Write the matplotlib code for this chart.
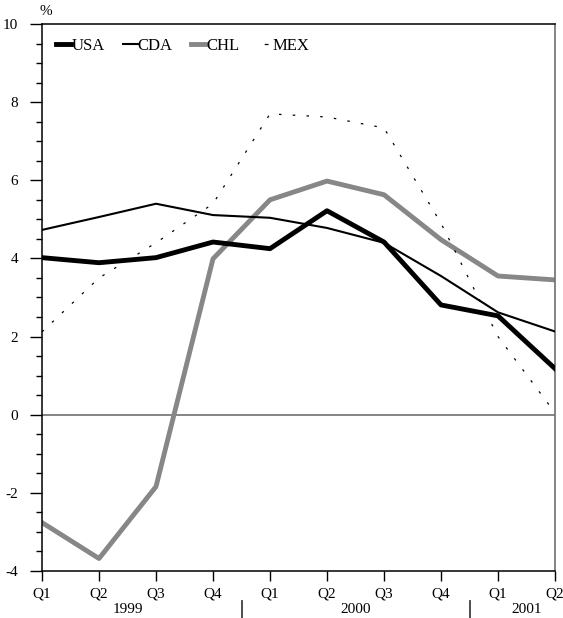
import numpy as np
import matplotlib
matplotlib.use('Agg')
import matplotlib.pyplot as plt
from matplotlib.lines import Line2D
from matplotlib.ticker import MultipleLocator

plt.rcParams['font.family'] = ['Liberation Serif', 'DejaVu Serif']
plt.rcParams['axes.unicode_minus'] = False

quarters = ['Q1', 'Q2', 'Q3', 'Q4', 'Q1', 'Q2', 'Q3', 'Q4', 'Q1', 'Q2']
years = ['1999', '2000', '2001']
usa = [4.02, 3.89, 4.02, 4.42, 4.25, 5.22, 4.42, 2.81, 2.53, 1.18]
cda = [4.73, 5.06, 5.40, 5.11, 5.04, 4.78, 4.40, 3.55, 2.62, 2.13]
chl = [-2.76, -3.68, -1.84, 3.99, 5.50, 5.98, 5.63, 4.48, 3.55, 3.45]
mex = [2.12, 3.50, 4.40, 5.40, 7.70, 7.62, 7.34, 4.90, 2.00, 0.05]

x = np.arange(len(quarters))

fig = plt.figure(figsize=(5.63, 6.18), dpi=100)
ax = fig.add_axes([42/563, 1 - 571/618, (555 - 42)/563, (571 - 24)/618])

ax.axhline(0, color='#707070', lw=1.2, zorder=1)
h1, = ax.plot(x, usa, color='black', lw=3.5, label='USA', zorder=4)
h2, = ax.plot(x, cda, color='black', lw=1.5, label='CDA', zorder=3)
h3, = ax.plot(x, chl, color='#878787', lw=3.5, label='CHL', zorder=2)
ax.plot(x, mex, color='black', lw=0.9, ls=(0, (2, 9)), zorder=3)
# legend handle for MEX shows a single dash in the middle
h4 = Line2D([], [], color='black', lw=0.9, ls=(0, (0.01, 5, 3, 30)), label='MEX')

ax.set_xlim(0, 9)
ax.set_ylim(-4, 10)
ax.set_xticks(x)
ax.set_xticklabels(quarters, fontsize=11)
ax.yaxis.set_major_locator(MultipleLocator(2))
ax.yaxis.set_minor_locator(MultipleLocator(0.5))
ax.tick_params(axis='y', which='major', length=9, width=1, labelsize=11, pad=8)
ax.tick_params(axis='y', which='minor', length=4, width=1)
ax.tick_params(axis='x', length=7, width=1, direction='out', pad=5)

ax.spines['right'].set_color('#707070')
ax.spines['right'].set_linewidth(1.2)
for s in ['left', 'top', 'bottom']:
    ax.spines[s].set_linewidth(1.1)

ax.text(-0.05, 10.15, '%', fontsize=11, ha='left', va='bottom')

# year labels under the quarters
year_pos = [1.5, 5.5, 8.5]
for xp, yr in zip(year_pos, years):
    ax.text(xp, -0.071, yr, transform=ax.get_xaxis_transform(), ha='center', va='center', fontsize=11)
for xp in [3.5, 7.5]:
    ax.plot([xp, xp], [-0.054, -0.086], transform=ax.get_xaxis_transform(),
            color='#404040', lw=1.3, clip_on=False)

ax.legend(handles=[h1, h2, h3, h4], loc='upper left', ncol=4, frameon=False, fontsize=12,
          handlelength=0.9, handletextpad=0.0, columnspacing=1.1,
          bbox_to_anchor=(0.0, 1.0), borderaxespad=0.45)

plt.savefig('out.png', dpi=100)
